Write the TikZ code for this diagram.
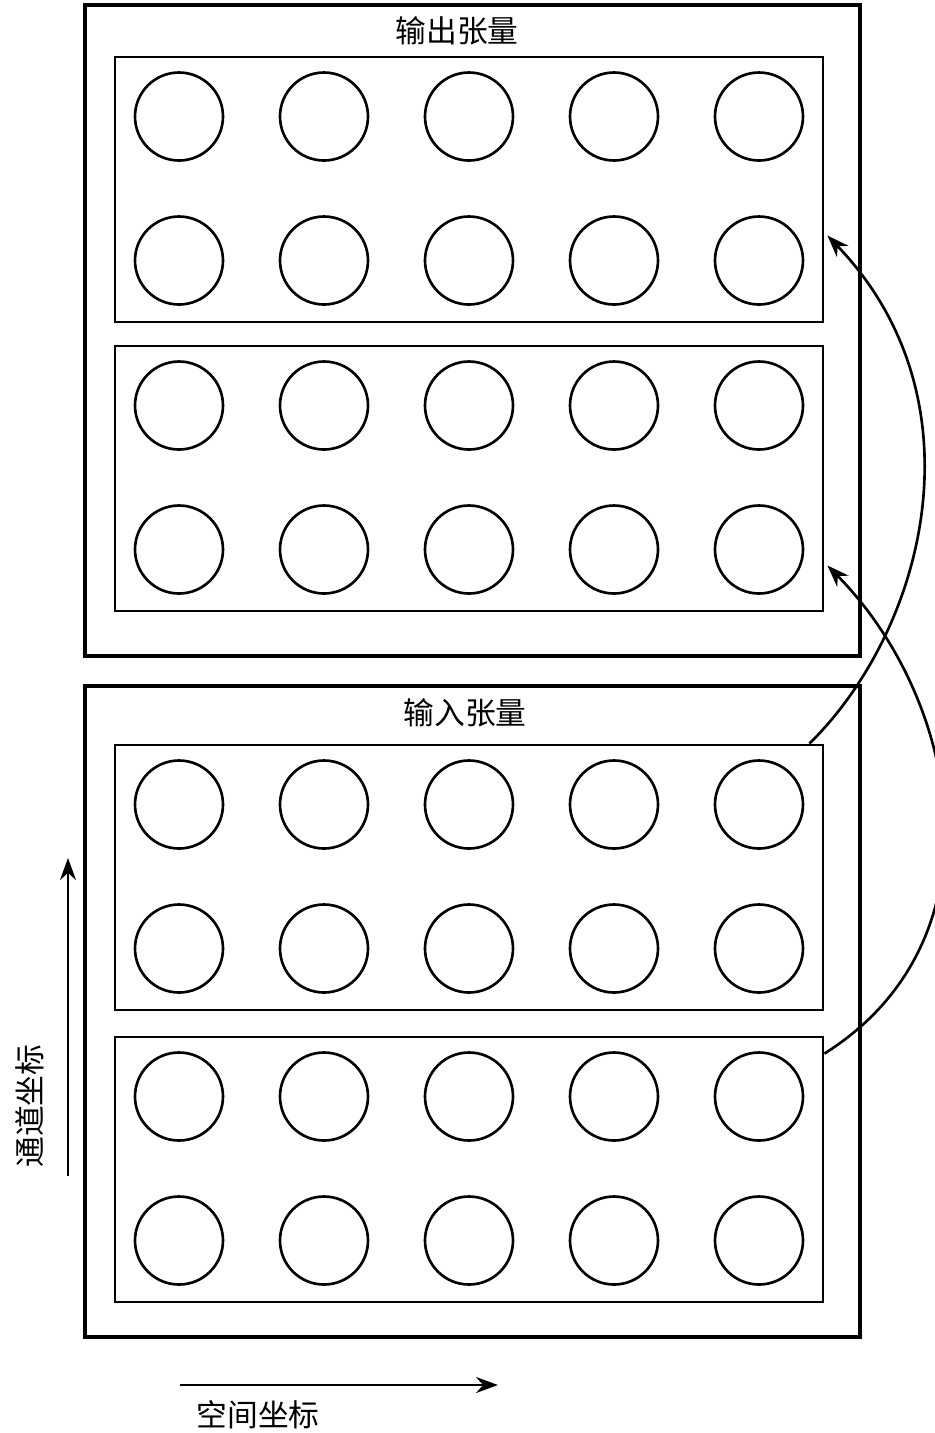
\documentclass[tikz,border=0pt]{standalone}
\usepackage{fontspec}
\newfontfamily\cjk{Noto Sans CJK SC}
\usetikzlibrary{arrows.meta,positioning,calc}

\begin{document}
\begin{tikzpicture}[x=0.2mm,y=-0.2mm,font=\cjk\fontsize{17.5}{20}\selectfont,
  tensor/.style={draw,line width=2pt,minimum width=155mm,minimum height=130.2mm,inner sep=0pt},
  group/.style={draw,line width=1.6pt,minimum width=141.6mm,minimum height=53mm,inner sep=0pt},
  unit/.style={circle,draw,line width=1.5pt,minimum size=17.6mm,inner sep=0pt},
  link/.style={line width=1.5pt,-{Stealth[length=4.4mm,width=3.2mm]}}]
\useasboundingbox (0,0) rectangle (935,1433);
% tensors
\node[tensor] (out) at (472.5,330.5) {};
\node[tensor] (in) at (472.5,1011.5) {};
\node (outlabel) at (457,31) {输出张量};
\node (inlabel) at (465,713) {输入张量};
% channel groups
\node[group] (g1) at (469,189.5) {};
\node[group] (g2) at (469,478.5) {};
\node[group] (g3) at (469,877.5) {};
\node[group] (g4) at (469,1169.5) {};
\foreach \g in {1,2,3,4}
  \foreach \k [count=\i] in {179,324,469,614,759} {
    \node[unit] (c\g-1-\i) at (\k,0 |- {$(g\g.center)+(0,-73)$}) {};
    \node[unit] (c\g-2-\i) at (\k,0 |- {$(g\g.center)+(0,71)$}) {};
  }
% mapping arrows
\coordinate (a1) at ($(g3.north east)+(-15,0)$);
\coordinate (b1) at ($(g1.east)+(3,46)$);
\coordinate (a2) at ($(g4.north east)+(0,18)$);
\coordinate (b2) at ($(g2.east)+(3,87)$);
\draw[link] (a1) .. controls (925,630) and (985,400) .. (b1);
\draw[link] (a2) .. controls (1005,940) and (960,700) .. (b2);
% axes
\coordinate (ch0) at (68,1176);
\coordinate (ch1) at (68,858);
\coordinate (sp0) at (180,1385);
\coordinate (sp1) at (498,1385);
\draw[link] (ch0) -- (ch1);
\draw[link] (sp0) -- (sp1);
\node[rotate=90] (chlabel) at (30,1106) {通道坐标};
\node (splabel) at (258,1415) {空间坐标};
\end{tikzpicture}
\end{document}
